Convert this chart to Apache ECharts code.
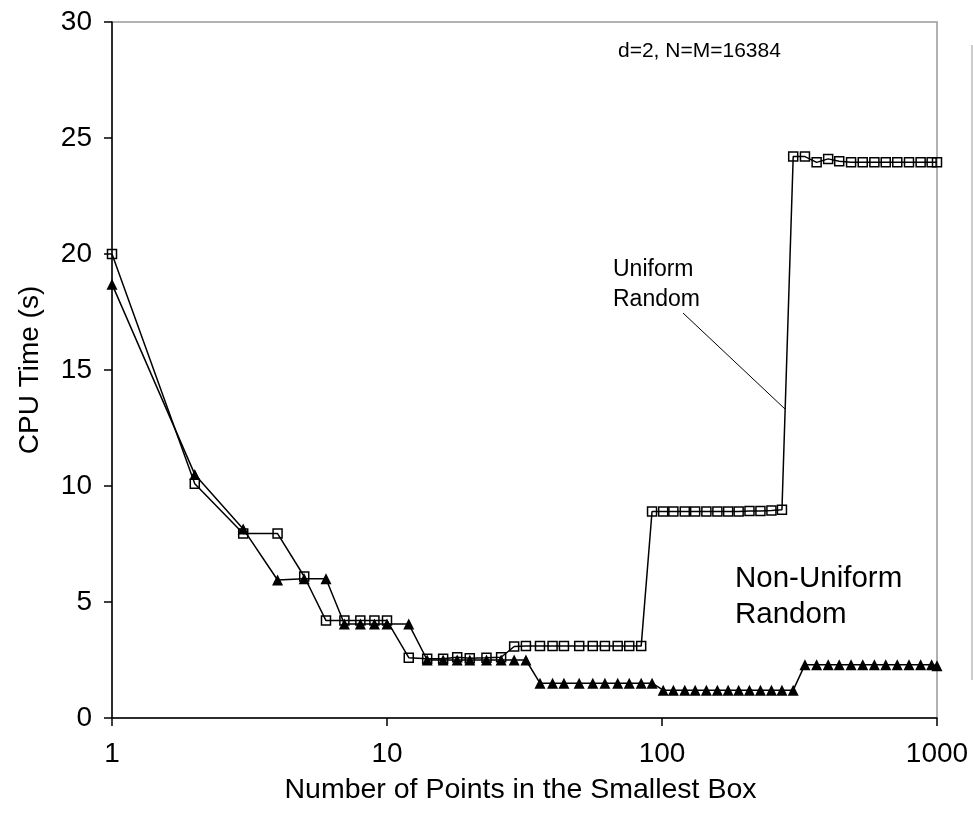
<!DOCTYPE html>
<html><head><meta charset="utf-8">
<script src="https://cdn.jsdelivr.net/npm/echarts@6/dist/echarts.min.js"></script>
<style>html,body{margin:0;padding:0;background:#fff}#c{width:973px;height:823px}</style>
</head><body><div id="c"></div>
<script>
// Number of points in the smallest box (x values)
const xValues = [1,2,3,4,5,6,7,8,9,10,
  12,14,16,18,20,23,26,
  29,32,36,40,44,50,56,62,69,76,84,
  92,101,110,121,132,145,159,174,190,208,228,250,273,
  300,331,365,402,441,487,537,592,651,717,791,872,956,1000];
// CPU time (s), uniform random
const uniformValues = [20.0,10.1,7.95,7.95,6.1,4.2,4.2,4.2,4.2,4.2,
  2.6,2.55,2.55,2.62,2.58,2.6,2.62,
  3.08,3.1,3.1,3.1,3.1,3.1,3.1,3.1,3.1,3.1,3.1,
  8.9,8.9,8.9,8.9,8.9,8.9,8.9,8.9,8.9,8.92,8.92,8.94,8.98,
  24.2,24.2,23.95,24.1,24.0,23.95,23.95,23.95,23.95,23.95,23.95,23.95,23.95,23.95];
// CPU time (s), non-uniform random
const nonUniformValues = [18.7,10.5,8.15,5.95,6.0,6.0,4.05,4.05,4.05,4.05,
  4.05,2.5,2.5,2.5,2.5,2.5,2.5,
  2.5,2.5,1.5,1.5,1.5,1.5,1.5,1.5,1.5,1.5,1.5,
  1.5,1.2,1.2,1.2,1.2,1.2,1.2,1.2,1.2,1.2,1.2,1.2,1.2,
  1.2,2.3,2.3,2.3,2.3,2.3,2.3,2.3,2.3,2.3,2.3,2.3,2.3,2.25];
const yTickValues = [0,5,10,15,20,25,30];
const xTickLabels = ['1','10','100','1000'];
const seriesNames = ['Uniform Random','Non-Uniform Random'];
const xAxisTitle = 'Number of Points in the Smallest Box';
const yAxisTitle = 'CPU Time (s)';
const noteText = 'd=2, N=M=16384';

const FONT = 'Liberation Sans, Arial, sans-serif';
const chart = echarts.init(document.getElementById('c'), null, {renderer:'canvas'});
chart.setOption({
  animation:false,
  backgroundColor:'#fff',
  grid:{left:112,right:36,top:22,bottom:105,show:true,borderColor:'#999',borderWidth:1.5,backgroundColor:'transparent'},
  xAxis:{type:'log',logBase:10,min:1,max:1000,
    name:xAxisTitle,nameLocation:'middle',nameGap:58,
    nameTextStyle:{fontFamily:FONT,fontSize:28.5,color:'#000',padding:[0,8,0,0]},
    axisLine:{lineStyle:{color:'#000',width:1.5}},
    axisTick:{show:true,length:8,lineStyle:{color:'#000',width:1.5}},
    minorTick:{show:false},splitLine:{show:false},
    axisLabel:{fontFamily:FONT,fontSize:28,color:'#000',margin:22,
      formatter:function(v){const s=String(Math.round(v));return xTickLabels.indexOf(s)>=0?s:'';}}
  },
  yAxis:{type:'value',min:yTickValues[0],max:yTickValues[yTickValues.length-1],interval:5,
    name:yAxisTitle,nameLocation:'middle',nameGap:68,nameRotate:90,
    nameTextStyle:{fontFamily:FONT,fontSize:28,color:'#000'},
    axisLine:{show:true,lineStyle:{color:'#000',width:1.5}},
    axisTick:{show:true,length:8,lineStyle:{color:'#000',width:1.5}},
    splitLine:{show:false},
    axisLabel:{fontFamily:FONT,fontSize:28,color:'#000',margin:20}
  },
  series:[
    {name:seriesNames[0],type:'line',data:xValues.map((x,i)=>[x,uniformValues[i]]),
      symbol:'rect',symbolSize:9,showSymbol:true,
      lineStyle:{color:'#000',width:1.5},
      itemStyle:{color:'rgba(255,255,255,0)',borderColor:'#000',borderWidth:1.5},z:3},
    {name:seriesNames[1],type:'line',data:xValues.map((x,i)=>[x,nonUniformValues[i]]),
      symbol:'triangle',symbolSize:11,showSymbol:true,
      lineStyle:{color:'#000',width:1.5},
      itemStyle:{color:'#000'},z:2}
  ],
  graphic:[
    {type:'text',left:618,top:41,style:{text:noteText,font:'21px '+FONT,fill:'#000'}},
    {type:'text',left:613,top:255,style:{text:'Uniform\nRandom',font:'23px '+FONT,lineHeight:30,fill:'#000'}},
    {type:'line',shape:{x1:683,y1:313,x2:785,y2:409},style:{stroke:'#000',lineWidth:1}},
    {type:'text',left:735,top:561,style:{text:'Non-Uniform\nRandom',font:'29.5px '+FONT,lineHeight:36,fill:'#000'}},
    {type:'line',shape:{x1:972,y1:45,x2:972,y2:680},style:{stroke:'#bbb',lineWidth:1.5}}
  ]
});
</script></body></html>
